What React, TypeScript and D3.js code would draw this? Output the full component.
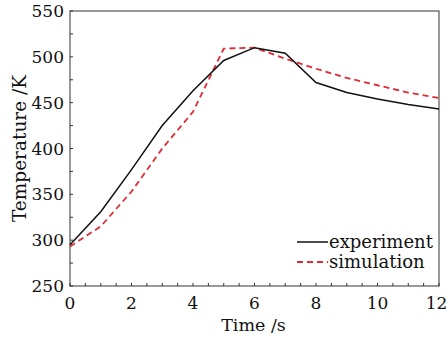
import React from "react";
import * as d3 from "d3";

const times = [0, 1, 2, 3, 4, 5, 6, 7, 8, 9, 10, 11, 12];
const experiment = [295, 331, 377, 425, 463, 496, 510, 504, 472, 461, 454, 448, 443];
const simulation = [293, 315, 353, 400, 440, 509, 510, 498, 487, 477, 469, 461, 455];
const xTicks = [0, 2, 4, 6, 8, 10, 12];
const yTicks = [250, 300, 350, 400, 450, 500, 550];
const seriesNames = ["experiment", "simulation"];

const W = 448, H = 339;
const L = 70, R = 439, T = 11, B = 286;
const FONT = "DejaVu Serif";

export default function App() {
  const x = d3.scaleLinear().domain([0, 12]).range([L, R]);
  const y = d3.scaleLinear().domain([250, 550]).range([B, T]);
  const line = d3.line<number>().x((_, i) => x(times[i])).y((d) => y(d));
  const xMinor = d3.range(0, 12.01, 0.5);
  const yMinor = d3.range(250, 550.01, 25);
  return (
    <svg width={W} height={H} style={{ position: "absolute", left: 0, top: 0, background: "#fff" }} fontFamily={FONT}>
      <rect x={L} y={T} width={R - L} height={B - T} fill="none" stroke="#333" strokeWidth={1} />
      {xMinor.map((t) => (
        <line key={"xt" + t} x1={x(t)} x2={x(t)} y1={B} y2={B - 3} stroke="#333" strokeWidth={1} />
      ))}
      {yMinor.map((t) => (
        <line key={"yt" + t} x1={L} x2={L + 3} y1={y(t)} y2={y(t)} stroke="#333" strokeWidth={1} />
      ))}
      {xTicks.map((t) => (
        <text key={"xl" + t} x={Math.min(x(t), W - 11.5)} y={B + 23} textAnchor="middle" fontSize={17} fill="#111">{t}</text>
      ))}
      {yTicks.map((t) => (
        <text key={"yl" + t} x={L - 6} y={y(t) + 6} textAnchor="end" fontSize={17} fill="#111">{t}</text>
      ))}
      <text x={(L + R) / 2 - 1} y={331} textAnchor="middle" fontSize={17.5} fill="#111">Time /s</text>
      <text transform={`translate(26,${(T + B) / 2}) rotate(-90)`} textAnchor="middle" fontSize={18.5} fill="#111">Temperature /K</text>
      <path d={line(simulation) || ""} fill="none" stroke="#e02a35" strokeWidth={1.8} strokeDasharray="6,4" />
      <path d={line(experiment) || ""} fill="none" stroke="#111" strokeWidth={1.5} />
      <line x1={297} x2={328} y1={242} y2={242} stroke="#111" strokeWidth={1.5} />
      <text x={329} y={248} fontSize={18} fill="#111">{seriesNames[0]}</text>
      <line x1={297} x2={328} y1={262} y2={262} stroke="#e02a35" strokeWidth={1.8} strokeDasharray="6,4" />
      <text x={329} y={268} fontSize={18} fill="#111">{seriesNames[1]}</text>
    </svg>
  );
}
